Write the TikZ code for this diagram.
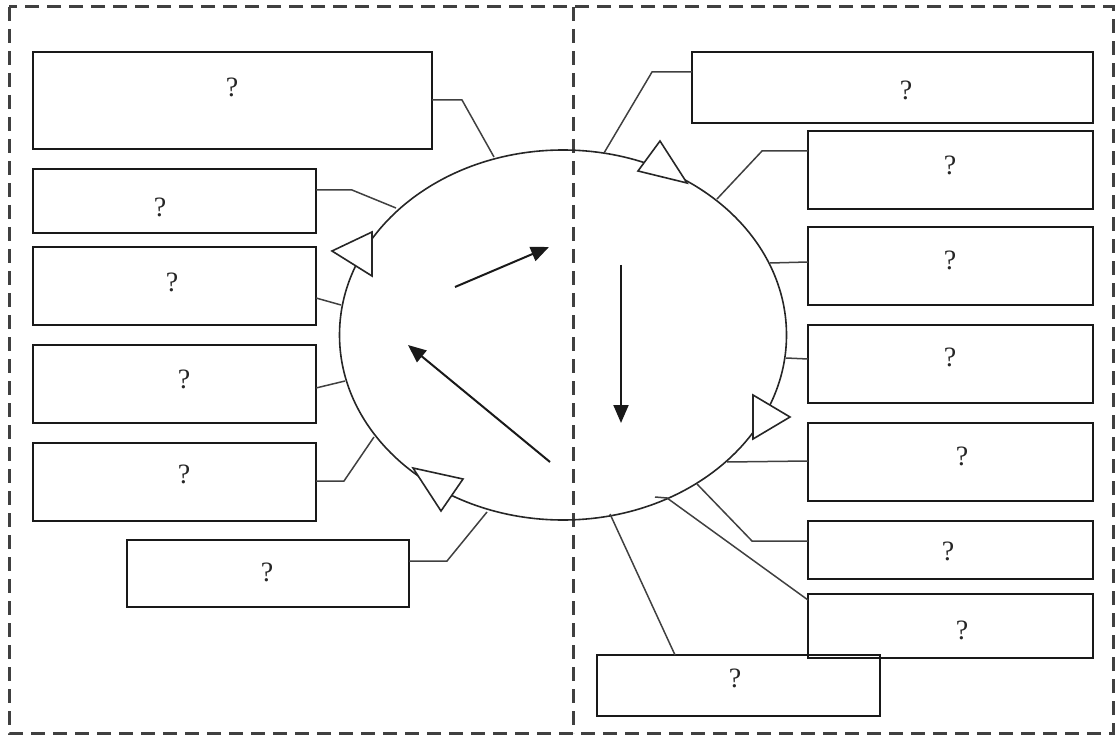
\documentclass[tikz,border=0pt]{standalone}
\usepackage{fontspec}
\setmainfont{Liberation Serif}
\usetikzlibrary{arrows.meta,shapes.geometric}
\newcommand\rbox[5]{\node[box, minimum width={(#4-#2)*1pt}, minimum height={(#5-#3)*1pt}] (#1) at ({(#2+#4)/2},{(#3+#5)/2}) {};}
\begin{document}
\begin{tikzpicture}[x=1pt,y=-1pt,
  box/.style={draw=black!90, line width=2pt, inner sep=0pt, outer sep=0pt},
  link/.style={draw=black!75, line width=1.5pt},
  qm/.style={font=\fontsize{28}{30}\selectfont, inner sep=0pt, text=black!85},
  tri/.style={draw=black!85, fill=white, line width=1.6pt, line join=miter},
  arr/.style={draw=black!90, line width=2pt, -{Triangle[length=18pt,width=15pt]}},
  frame/.style={draw=black!75, line width=3pt, dash pattern=on 14pt off 8pt},
  ring/.style={draw=black!85, line width=1.6pt, ellipse, inner sep=0pt, outer sep=0pt}]
\useasboundingbox (0,0) rectangle (1116,735);
% frame
\draw[frame] (9,7) rectangle (1113,733);
\draw[frame] (573,7) -- (573,733);
% ellipse
\node[ring, minimum width=447pt, minimum height=370pt] (E) at (563,335) {};
% left boxes
\rbox{L1}{33}{52}{432}{149}
\rbox{L2}{33}{169}{316}{233}
\rbox{L3}{33}{247}{316}{325}
\rbox{L4}{33}{345}{316}{423}
\rbox{L5}{33}{443}{316}{521}
\rbox{L6}{127}{540}{409}{607}
% right boxes
\rbox{R1}{692}{52}{1093}{123}
\rbox{R2}{808}{131}{1093}{209}
\rbox{R3}{808}{227}{1093}{305}
\rbox{R4}{808}{325}{1093}{403}
\rbox{R5}{808}{423}{1093}{501}
\rbox{R6}{808}{521}{1093}{579}
\rbox{R7}{808}{594}{1093}{658}
\rbox{R8}{597}{655}{880}{716}
% texts
\node[qm] (tL1) at (232,87) {?};
\node[qm] (tL2) at (160,207) {?};
\node[qm] (tL3) at (172,282) {?};
\node[qm] (tL4) at (184,379) {?};
\node[qm] (tL5) at (184,474) {?};
\node[qm] (tL6) at (267,572) {?};
\node[qm] (tR1) at (906,90) {?};
\node[qm] (tR2) at (950,165) {?};
\node[qm] (tR3) at (950,260) {?};
\node[qm] (tR4) at (950,357) {?};
\node[qm] (tR5) at (962,456) {?};
\node[qm] (tR6) at (948,551) {?};
\node[qm] (tR7) at (962,630) {?};
\node[qm] (tR8) at (735,678) {?};
% connector points on ellipse
\coordinate (eL1) at (494,157);
\coordinate (eL2) at (396,208);
\coordinate (eL3) at (341,305);
\coordinate (eL4) at (345,381);
\coordinate (eL5) at (374,437);
\coordinate (eL6) at (487,512);
\coordinate (eR1) at (604,153);
\coordinate (eR2) at (717,199);
\coordinate (eR3) at (770,263);
\coordinate (eR4) at (786,358);
\coordinate (eR5) at (727,462);
\coordinate (eR6) at (697,484);
\coordinate (eR7) at (655,497);
\coordinate (eR8) at (610,514);
% connectors
\draw[link] (L1.east |- 0,100) -- (462,100) -- (eL1);
\draw[link] (L2.east |- 0,190) -- (352,190) -- (eL2);
\draw[link] (L3.east |- 0,298) -- (eL3);
\draw[link] (L4.east |- 0,388) -- (eL4);
\draw[link] (L5.east |- 0,481) -- (344,481) -- (eL5);
\draw[link] (L6.east |- 0,561) -- (447,561) -- (eL6);
\draw[link] (R1.west |- 0,72) -- (652,72) -- (eR1);
\draw[link] (R2.west |- 0,151) -- (762,151) -- (eR2);
\draw[link] (R3.west |- 0,262) -- (eR3);
\draw[link] (R4.west |- 0,359) -- (eR4);
\draw[link] (R5.west |- 0,461) -- (eR5);
\draw[link] (R6.west |- 0,541) -- (752,541) -- (eR6);
\draw[link] (R7.west |- 0,600) -- (667,498) -- (eR7);
\draw[link] (R8.north -| 675,0) -- (eR8);
% triangles
\draw[tri] (660,141) -- (638,171) -- (687,183) -- cycle;
\draw[tri] (332,251) -- (372,232) -- (372,276) -- cycle;
\draw[tri] (413,468) -- (463,479) -- (441,511) -- cycle;
\draw[tri] (753,395) -- (790,417) -- (753,439) -- cycle;
% arrows
\coordinate (a1s) at (455,287); \coordinate (a1e) at (549,247);
\coordinate (a2s) at (550,462); \coordinate (a2e) at (408,345);
\coordinate (a3s) at (621,265); \coordinate (a3e) at (621,423);
\draw[arr] (a1s) -- (a1e);
\draw[arr] (a2s) -- (a2e);
\draw[arr] (a3s) -- (a3e);
\end{tikzpicture}
\end{document}
